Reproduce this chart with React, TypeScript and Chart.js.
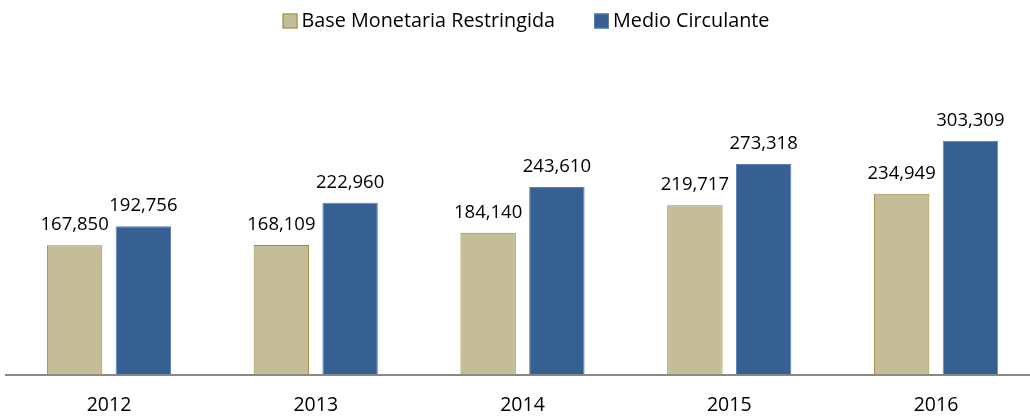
import React, { useEffect, useRef } from "react";
import { Chart, registerables } from "chart.js";

Chart.register(...registerables);

const years = ["2012", "2013", "2014", "2015", "2016"];
const baseMonetaria = [167850, 168109, 184140, 219717, 234949];
const medioCirculante = [192756, 222960, 243610, 273318, 303309];
const seriesNames = ["Base Monetaria Restringida", "Medio Circulante"];

const TAN = "#C4BD97";
const TAN_BORDER = "#9C8A3C";
const BLUE = "#376092";
const BLUE_BORDER = "#5B7DB0";
const FONT = "'Open Sans'";

const valueLabels = {
  id: "valueLabels",
  afterDatasetsDraw(chart: any) {
    const ctx = chart.ctx;
    ctx.save();
    ctx.font = `18.5px ${FONT}`;
    ctx.fillStyle = "#000";
    ctx.textAlign = "center";
    ctx.textBaseline = "alphabetic";
    chart.data.datasets.forEach((ds: any, di: number) => {
      const meta = chart.getDatasetMeta(di);
      meta.data.forEach((el: any, i: number) => {
        const v = ds.data[i] as number;
        ctx.fillText(v.toLocaleString("en-US"), el.x, el.y - 15);
      });
    });
    ctx.restore();
  },
};

const customLegend = {
  id: "customLegend",
  afterDraw(chart: any) {
    const ctx = chart.ctx;
    ctx.save();
    ctx.font = `19.8px ${FONT}`;
    ctx.textBaseline = "alphabetic";
    ctx.textAlign = "left";
    const box = 15;
    const gapText = 4;
    const gapItem = 39;
    const items = chart.data.datasets.map((ds: any) => ({
      text: ds.label,
      fill: ds.backgroundColor,
      border: Array.isArray(ds.borderColor) ? ds.borderColor[0] : ds.borderColor,
      w: ctx.measureText(ds.label).width,
    }));
    let total = 0;
    items.forEach((it: any, i: number) => {
      total += box + gapText + it.w + (i < items.length - 1 ? gapItem : 0);
    });
    let x = 526 - total / 2;
    const boxTop = 13.5;
    const baseline = 27;
    items.forEach((it: any) => {
      ctx.fillStyle = it.fill;
      ctx.fillRect(x, boxTop, box, box);
      ctx.strokeStyle = it.border;
      ctx.lineWidth = 1;
      ctx.strokeRect(x + 0.5, boxTop + 0.5, box - 1, box - 1);
      ctx.fillStyle = "#000";
      ctx.fillText(it.text, x + box + gapText, baseline);
      x += box + gapText + it.w + gapItem;
    });
    ctx.restore();
  },
};

export default function App() {
  const ref = useRef<HTMLCanvasElement | null>(null);
  useEffect(() => {
    if (!ref.current) return;
    const chart = new Chart(ref.current, {
      type: "bar",
      data: {
        labels: years,
        datasets: [
          {
            label: seriesNames[0],
            data: baseMonetaria,
            backgroundColor: TAN,
            borderColor: TAN_BORDER,
            borderWidth: 1,
            categoryPercentage: 0.665,
            barPercentage: 0.806,
          },
          {
            label: seriesNames[1],
            data: medioCirculante,
            backgroundColor: BLUE,
            borderColor: [BLUE_BORDER, BLUE_BORDER, BLUE_BORDER, BLUE_BORDER, TAN_BORDER],
            borderWidth: 1,
            categoryPercentage: 0.665,
            barPercentage: 0.806,
          },
        ],
      },
      options: {
        responsive: false,
        animation: false,
        layout: { padding: { top: 66.5, left: 5.6, right: 0.6, bottom: 0 } },
        plugins: {
          legend: { display: false },
          tooltip: { enabled: false },
        },
        scales: {
          x: {
            grid: { display: false, drawTicks: false },
            border: { display: true, color: "#898989", width: 2 },
            ticks: {
              color: "#000",
              padding: 19,
              font: { family: FONT, size: 19.5 },
            },
          },
          y: {
            display: false,
            min: 0,
            max: 400000,
          },
        },
      },
      plugins: [valueLabels, customLegend],
    });
    return () => chart.destroy();
  }, []);
  return (
    <div
      style={{
        position: "fixed",
        left: 0,
        top: 0,
        width: 1030,
        height: 416,
        overflow: "hidden",
        background: "#fff",
      }}
    >
      <canvas ref={ref} width={1040} height={436} style={{ display: "block" }} />
    </div>
  );
}
